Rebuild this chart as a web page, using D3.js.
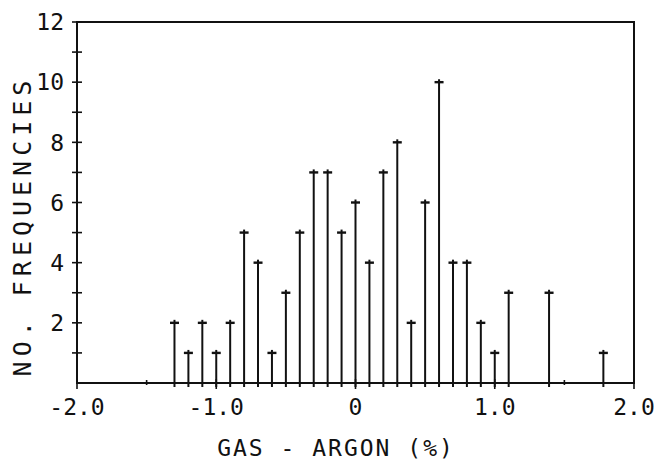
<!DOCTYPE html>
<html>
<head>
<meta charset="utf-8">
<script src="https://cdn.jsdelivr.net/npm/d3@7"></script>
<style>
  body { margin: 0; background: #fff; }
  text { font-family: "DejaVu Sans Mono", monospace; fill: #111; }
</style>
</head>
<body>
<div id="chart"></div>
<script>
// deviation values (gas - argon, %) and how many times each came up
const deviations = [-1.3, -1.2, -1.1, -1.0, -0.9, -0.8, -0.7, -0.6, -0.5, -0.4, -0.3, -0.2, -0.1, 0,
                    0.1, 0.2, 0.3, 0.4, 0.5, 0.6, 0.7, 0.8, 0.9, 1.0, 1.1, 1.39, 1.78];
const counts = [2, 1, 2, 1, 2, 5, 4, 1, 3, 5, 7, 7, 5, 6,
                4, 7, 8, 2, 6, 10, 4, 4, 2, 1, 3, 3, 1];
const xTickLabels = [-2, -1, 0, 1, 2];
const xMinorTicks = [-1.5, 1.5];
const yTickLabels = [2, 4, 6, 8, 10, 12];
const yMinorTicks = [1, 3, 5, 7, 9, 11];

const width = 660, height = 462;
const svg = d3.select('#chart').append('svg')
  .attr('width', width)
  .attr('height', height);

const x = d3.scaleLinear().domain([-2, 2]).range([77, 634]);
const y = d3.scaleLinear().domain([0, 12]).range([383, 22]);

const ink = '#111';

// frame: left + bottom are the axes, top + right close the box
svg.append('path')
  .attr('d', `M${x(-2)},${y(12)} H${x(2)} V${y(0)} H${x(-2)} Z`)
  .attr('fill', 'none')
  .attr('stroke', ink)
  .attr('stroke-width', 2);

// y ticks cross the axis
svg.append('g')
  .selectAll('line')
  .data(yTickLabels.concat(yMinorTicks))
  .join('line')
  .attr('x1', x(-2) - 5).attr('x2', x(-2) + 5)
  .attr('y1', d => y(d)).attr('y2', d => y(d))
  .attr('stroke', ink).attr('stroke-width', 1.6);

svg.append('g')
  .selectAll('text')
  .data(yTickLabels)
  .join('text')
  .attr('x', 64)
  .attr('y', d => y(d))
  .attr('dy', '0.36em')
  .attr('text-anchor', 'end')
  .style('font-size', '23px')
  .text(d => d);

// x ticks
svg.append('g')
  .selectAll('line')
  .data(xTickLabels)
  .join('line')
  .attr('x1', d => x(d)).attr('x2', d => x(d))
  .attr('y1', y(0) - 4).attr('y2', y(0) + 6)
  .attr('stroke', ink).attr('stroke-width', 1.6);

svg.append('g')
  .selectAll('line')
  .data(xMinorTicks)
  .join('line')
  .attr('x1', d => x(d)).attr('x2', d => x(d))
  .attr('y1', y(0) - 3).attr('y2', y(0) + 2)
  .attr('stroke', ink).attr('stroke-width', 1.6);

svg.append('g')
  .selectAll('text')
  .data(xTickLabels)
  .join('text')
  .attr('x', d => x(d))
  .attr('y', 415)
  .attr('text-anchor', 'middle')
  .style('font-size', '23px')
  .text(d => d === 0 ? '0' : d3.format('.1f')(d).replace('−', '-'));

// stems
const stems = svg.append('g');
stems.selectAll('line.stem')
  .data(deviations)
  .join('line')
  .attr('class', 'stem')
  .attr('x1', d => x(d)).attr('x2', d => x(d))
  .attr('y1', y(0) + 4)
  .attr('y2', (d, i) => y(counts[i]) - 3)
  .attr('stroke', ink).attr('stroke-width', 2);

stems.selectAll('line.cap')
  .data(deviations)
  .join('line')
  .attr('class', 'cap')
  .attr('x1', d => x(d) - 4.5).attr('x2', d => x(d) + 4.5)
  .attr('y1', (d, i) => y(counts[i])).attr('y2', (d, i) => y(counts[i]))
  .attr('stroke', ink).attr('stroke-width', 2.4);

// axis titles
svg.append('text')
  .attr('x', 336)
  .attr('y', 456)
  .attr('text-anchor', 'middle')
  .style('font-size', '23px')
  .style('letter-spacing', '2px')
  .text('GAS - ARGON (%)');

svg.append('text')
  .attr('transform', 'translate(31,226) rotate(-90)')
  .attr('text-anchor', 'middle')
  .style('font-size', '25px')
  .style('letter-spacing', '5px')
  .text('NO. FREQUENCIES');
</script>
</body>
</html>
